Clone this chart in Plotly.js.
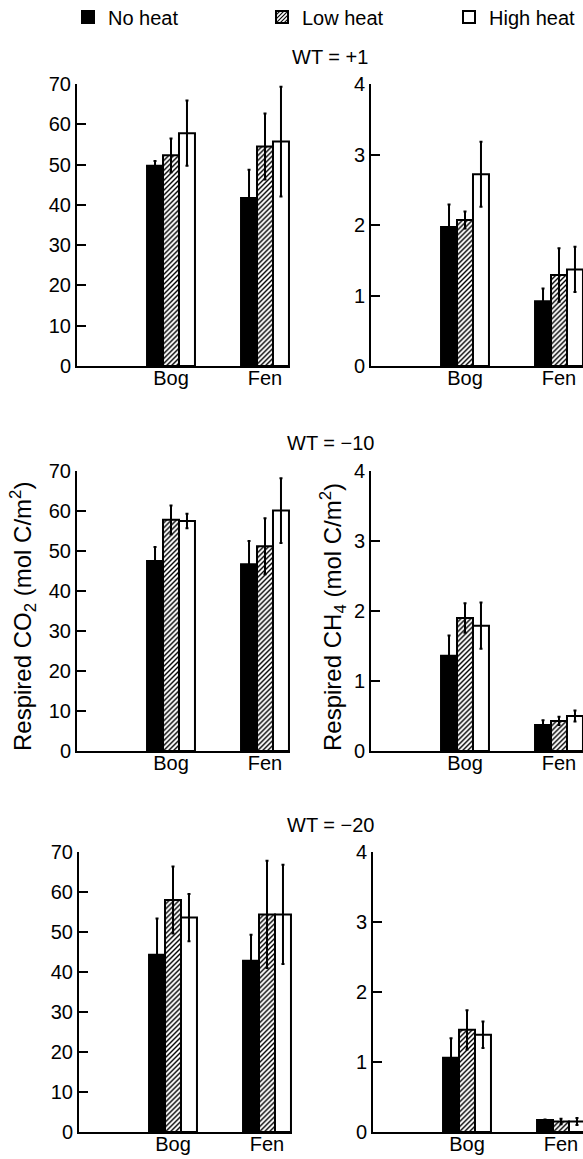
<!DOCTYPE html>
<html>
<head>
<meta charset="utf-8">
<script src="https://cdn.plot.ly/plotly-3.0.1.min.js"></script>
<style>html,body{margin:0;padding:0;background:#fff;}#chart{width:583px;height:1159px;}</style>
</head>
<body>
<div id="chart"></div>
<script>
// ---------- DATA ----------
const sites = ['Bog', 'Fen'];
const treatments = ['No heat', 'Low heat', 'High heat'];
const wtLabels = ['WT = +1', 'WT = \u221210', 'WT = \u221220'];

// Rows: WT = +1, WT = -10, WT = -20 ; columns: Bog, Fen
const co2NoHeat   = [[49.7, 41.7], [47.5, 46.7], [44.3, 42.8]];
const co2NoHeatErr   = [[1.2, 7.0], [3.5, 5.8], [9.1, 6.5]];
const co2LowHeat  = [[52.3, 54.5], [57.8, 51.2], [58.0, 54.4]];
const co2LowHeatErr  = [[4.2, 8.2], [3.6, 7.0], [8.4, 13.4]];
const co2HighHeat = [[57.8, 55.7], [57.5, 60.1], [53.6, 54.4]];
const co2HighHeatErr = [[8.1, 13.6], [1.8, 8.1], [5.9, 12.4]];

const ch4NoHeat   = [[1.97, 0.92], [1.36, 0.37], [1.06, 0.17]];
const ch4NoHeatErr   = [[0.32, 0.18], [0.29, 0.07], [0.28, 0.01]];
const ch4LowHeat  = [[2.07, 1.29], [1.90, 0.43], [1.46, 0.15]];
const ch4LowHeatErr  = [[0.12, 0.38], [0.21, 0.06], [0.28, 0.04]];
const ch4HighHeat = [[2.72, 1.37], [1.79, 0.50], [1.39, 0.15]];
const ch4HighHeatErr = [[0.46, 0.32], [0.33, 0.08], [0.19, 0.05]];

const co2Title = 'Respired CO<sub>2</sub> (mol C/m<sup>2</sup>)';
const ch4Title = 'Respired CH<sub>4</sub> (mol C/m<sup>2</sup>)';

// ---------- LAYOUT HELPERS ----------
const W = 583, H = 1159;
const px = v => v / W;
const py = v => 1 - v / H;
const FONT = 'Liberation Sans, Arial, Helvetica, sans-serif';

const styles = [
  {color: '#000000', line: {color: '#000', width: 2}},
  {color: '#ffffff', line: {color: '#000', width: 2},
   pattern: {shape: '/', fgcolor: '#000', bgcolor: '#fff', size: 3.5, solidity: 0.4, fillmode: 'replace'}},
  {color: '#ffffff', line: {color: '#000', width: 2}}
];
const legendIds = ['legend', 'legend2', 'legend3'];
const legendX = [68, 262, 449];

const co2Means = [co2NoHeat, co2LowHeat, co2HighHeat];
const co2Errs = [co2NoHeatErr, co2LowHeatErr, co2HighHeatErr];
const ch4Means = [ch4NoHeat, ch4LowHeat, ch4HighHeat];
const ch4Errs = [ch4NoHeatErr, ch4LowHeatErr, ch4HighHeatErr];

// pixel geometry per row: left axis x, right axis x, top y, bottom y
const rowsGeom = [
  {lx: 77, rx: 371, top: 84, bottom: 366},
  {lx: 77, rx: 371, top: 471, bottom: 751},
  {lx: 79, rx: 373, top: 852, bottom: 1132}
];
const UNIT = 94; // px per category

const data = [];
const layout = {
  width: W, height: H,
  margin: {l: 0, r: 0, t: 0, b: 0, autoexpand: false},
  paper_bgcolor: '#fff', plot_bgcolor: 'rgba(0,0,0,0)',
  font: {family: FONT, size: 20, color: '#000'},
  barmode: 'group', bargap: 0.49, bargroupgap: 0,
  showlegend: true,
  annotations: [],
  dragmode: false
};
legendIds.forEach((id, k) => {
  layout[id] = {orientation: 'h', x: px(legendX[k]), y: py(17), xanchor: 'left', yanchor: 'middle',
                font: {size: 20}, bgcolor: 'rgba(0,0,0,0)'};
});

let axIdx = 0;
rowsGeom.forEach((g, r) => {
  [0, 1].forEach(c => {
    axIdx++;
    const xa = axIdx === 1 ? 'x' : 'x' + axIdx;
    const ya = axIdx === 1 ? 'y' : 'y' + axIdx;
    const xkey = axIdx === 1 ? 'xaxis' : 'xaxis' + axIdx;
    const ykey = axIdx === 1 ? 'yaxis' : 'yaxis' + axIdx;
    const left = c === 0 ? g.lx : g.rx;
    const right = c === 0 ? g.lx + 213 : W;
    const means = c === 0 ? co2Means : ch4Means;
    const errs = c === 0 ? co2Errs : ch4Errs;
    treatments.forEach((t, k) => {
      data.push({
        type: 'bar', x: sites, y: means[k][r], name: t,
        xaxis: xa, yaxis: ya,
        marker: styles[k],
        error_y: {type: 'data', array: errs[k][r], visible: true, color: '#000', thickness: 2, width: 1.5},
        showlegend: axIdx === 1, legend: legendIds[k], legendgroup: t,
        hoverinfo: 'skip'
      });
    });
    layout[xkey] = {
      domain: [px(left), Math.min(1, px(right))], anchor: ya,
      type: 'category', categoryarray: sites,
      range: [-1, -1 + (right - left) / UNIT],
      showline: true, linewidth: 2, linecolor: '#000',
      ticks: '', showgrid: false, zeroline: false,
      tickfont: {size: 20}, ticklabelstandoff: -7, fixedrange: true
    };
    layout[ykey] = {
      domain: [py(g.bottom), py(g.top)], anchor: xa,
      range: c === 0 ? [0, 70] : [0, 4], dtick: c === 0 ? 10 : 1,
      showline: true, linewidth: 2, linecolor: '#000',
      ticks: 'inside', ticklen: 9, tickwidth: 2, tickcolor: '#000',
      showgrid: false, zeroline: false, tickfont: {size: 20}, fixedrange: true
    };
  });
});

// panel titles
const titleY = [57, 443, 825];
wtLabels.forEach((lab, r) => {
  layout.annotations.push({text: lab, xref: 'paper', yref: 'paper', x: px(330), y: py(titleY[r]),
    xanchor: 'center', yanchor: 'middle', showarrow: false, font: {size: 20}});
});
// y-axis titles
layout.annotations.push({text: co2Title, xref: 'paper', yref: 'paper', x: px(23), y: py(617),
  xanchor: 'center', yanchor: 'middle', textangle: -90, showarrow: false, font: {size: 24}});
layout.annotations.push({text: ch4Title, xref: 'paper', yref: 'paper', x: px(333), y: py(617),
  xanchor: 'center', yanchor: 'middle', textangle: -90, showarrow: false, font: {size: 24}});

Plotly.newPlot('chart', data, layout, {staticPlot: true, displayModeBar: false});
</script>
</body>
</html>
